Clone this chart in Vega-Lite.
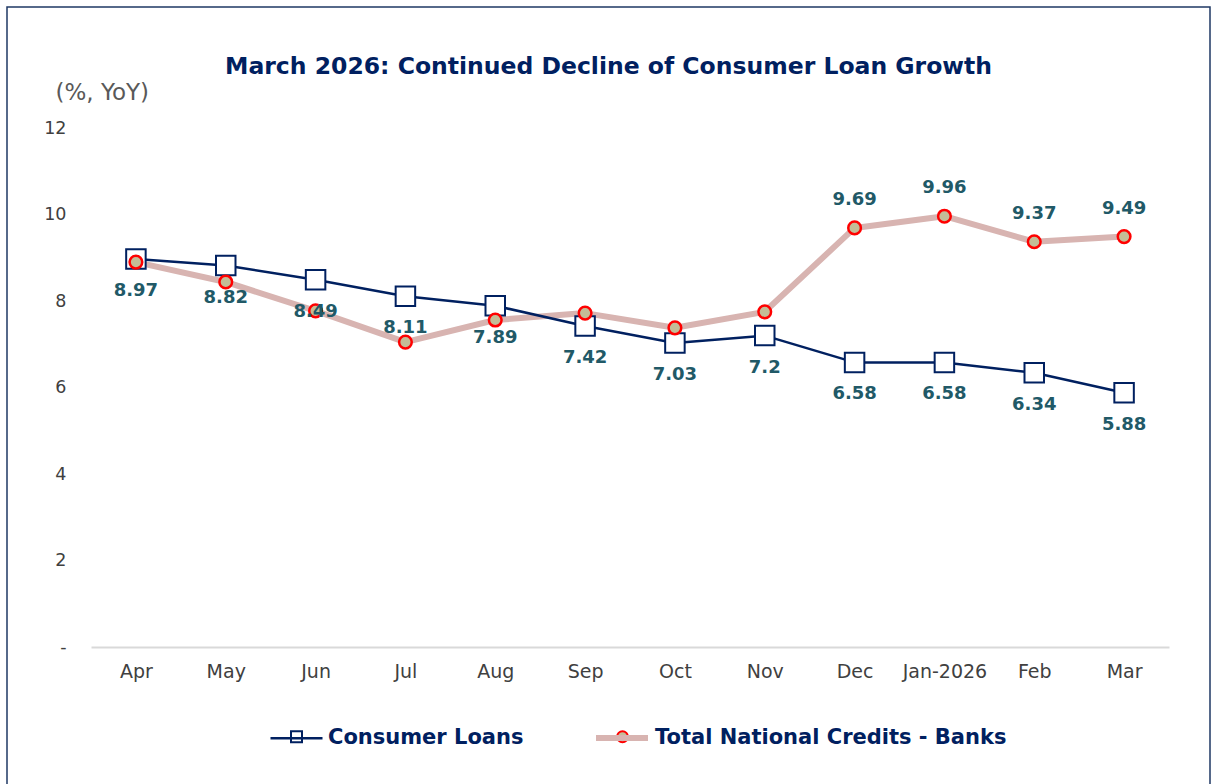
{
  "$schema": "https://vega.github.io/schema/vega-lite/v6.json",
  "autosize": {"type": "none"},
  "padding": {"left": 7, "top": 7, "right": 2, "bottom": 0},
  "width": 1203,
  "height": 790,
  "background": "white",
  "config": {
    "view": {"stroke": "#1F3864", "strokeWidth": 1.5},
    "font": "DejaVu Sans"
  },
  "title": {
    "text": "March 2026: Continued Decline of Consumer Loan Growth",
    "font": "DejaVu Sans",
    "fontSize": 23.5,
    "fontWeight": "bold",
    "color": "#002060",
    "anchor": "middle",
    "frame": "group",
    "orient": "top",
    "baseline": "alphabetic",
    "offset": -90
  },
  "data": {
    "values": [
      {"month": "Apr", "series": "Consumer Loans", "value": 8.97},
      {"month": "May", "series": "Consumer Loans", "value": 8.82},
      {"month": "Jun", "series": "Consumer Loans", "value": 8.49},
      {"month": "Jul", "series": "Consumer Loans", "value": 8.11},
      {"month": "Aug", "series": "Consumer Loans", "value": 7.89},
      {"month": "Sep", "series": "Consumer Loans", "value": 7.42},
      {"month": "Oct", "series": "Consumer Loans", "value": 7.03},
      {"month": "Nov", "series": "Consumer Loans", "value": 7.2},
      {"month": "Dec", "series": "Consumer Loans", "value": 6.58},
      {"month": "Jan-2026", "series": "Consumer Loans", "value": 6.58},
      {"month": "Feb", "series": "Consumer Loans", "value": 6.34},
      {"month": "Mar", "series": "Consumer Loans", "value": 5.88},
      {"month": "Apr", "series": "Total National Credits - Banks", "value": 8.9},
      {"month": "May", "series": "Total National Credits - Banks", "value": 8.44},
      {"month": "Jun", "series": "Total National Credits - Banks", "value": 7.77},
      {"month": "Jul", "series": "Total National Credits - Banks", "value": 7.05},
      {"month": "Aug", "series": "Total National Credits - Banks", "value": 7.56},
      {"month": "Sep", "series": "Total National Credits - Banks", "value": 7.72},
      {"month": "Oct", "series": "Total National Credits - Banks", "value": 7.38},
      {"month": "Nov", "series": "Total National Credits - Banks", "value": 7.75},
      {"month": "Dec", "series": "Total National Credits - Banks", "value": 9.69},
      {"month": "Jan-2026", "series": "Total National Credits - Banks", "value": 9.96},
      {"month": "Feb", "series": "Total National Credits - Banks", "value": 9.37},
      {"month": "Mar", "series": "Total National Credits - Banks", "value": 9.49}
    ]
  },
  "encoding": {
    "x": {
      "field": "month",
      "type": "nominal",
      "sort": ["Apr", "May", "Jun", "Jul", "Aug", "Sep", "Oct", "Nov", "Dec", "Jan-2026", "Feb", "Mar"],
      "scale": {"type": "point", "range": [84, 1162], "padding": 0.5},
      "axis": {
        "title": null,
        "orient": "bottom",
        "offset": -150,
        "labelAngle": 0,
        "labelFont": "DejaVu Sans",
        "labelFontSize": 19,
        "labelColor": "#404040",
        "labelPadding": 15,
        "ticks": false,
        "domain": true,
        "domainColor": "#D9D9D9",
        "domainWidth": 2,
        "grid": false
      }
    },
    "y": {
      "field": "value",
      "type": "quantitative",
      "scale": {"domain": [0, 12], "range": [640, 121], "nice": false, "zero": true},
      "axis": {
        "title": "(%, YoY)",
        "titleAngle": 0,
        "titleX": -36,
        "titleY": 92,
        "titleAlign": "left",
        "titleBaseline": "alphabetic",
        "titleFont": "DejaVu Sans",
        "titleFontSize": 23,
        "titleFontWeight": "normal",
        "titleColor": "#595959",
        "offset": -84,
        "values": [0, 2, 4, 6, 8, 10, 12],
        "labelExpr": "datum.value == 0 ? '-' : datum.label",
        "labelFont": "DejaVu Sans",
        "labelFontSize": 17.5,
        "labelColor": "#404040",
        "labelPadding": 25,
        "ticks": false,
        "domain": false,
        "grid": false
      }
    }
  },
  "layer": [
    {
      "transform": [{"filter": "datum.series == 'Total National Credits - Banks'"}],
      "mark": {"type": "line", "strokeCap": "round", "strokeJoin": "round"},
      "encoding": {
        "color": {
          "field": "series", "type": "nominal",
          "scale": {"range": ["#002060", "#D8B4B1"]},
          "legend": null
        },
        "strokeWidth": {
          "field": "series", "type": "nominal",
          "scale": {"type": "ordinal", "domain": ["Consumer Loans", "Total National Credits - Banks"], "range": [2.5, 6]},
          "legend": {
            "orient": "none", "direction": "horizontal", "legendX": 262, "legendY": 702,
            "title": null, "symbolType": "stroke", "symbolSize": 2704,
            "labelFont": "DejaVu Sans", "labelFontSize": 21, "labelFontWeight": "bold",
            "labelColor": "#002060", "labelOffset": 4, "columnPadding": 60, "labelLimit": 500,
            "encode": {"symbols": {"update": {"stroke": {"scale": "color", "field": "value"}}}}
          }
        }
      }
    },
    {
      "transform": [{"filter": "datum.series == 'Consumer Loans'"}],
      "mark": {"type": "line", "strokeJoin": "round"},
      "encoding": {
        "color": {"field": "series", "type": "nominal", "legend": null},
        "strokeWidth": {"field": "series", "type": "nominal"}
      }
    },
    {
      "transform": [{"filter": "datum.series == 'Consumer Loans'"}],
      "mark": {"type": "point", "size": 380, "strokeWidth": 2, "opacity": 1, "filled": false},
      "encoding": {
        "shape": {
          "field": "series", "type": "nominal",
          "scale": {"range": ["square", "circle"]},
          "legend": {
            "orient": "none", "direction": "horizontal", "legendX": 279, "legendY": 719,
            "title": null, "symbolSize": 121, "symbolStrokeWidth": 2,
            "labelFont": "DejaVu Sans", "labelFontSize": 21, "labelFontWeight": "bold",
            "labelOpacity": 0, "labelOffset": 44, "columnPadding": 65, "labelLimit": 500
          }
        },
        "fill": {"field": "series", "type": "nominal", "scale": {"range": ["#FFFFFF", "#C4BD97"]}},
        "stroke": {"field": "series", "type": "nominal", "scale": {"range": ["#002060", "#FF0000"]}}
      }
    },
    {
      "transform": [{"filter": "datum.series == 'Total National Credits - Banks'"}],
      "mark": {"type": "point", "size": 160, "strokeWidth": 2.5, "opacity": 1, "filled": false},
      "encoding": {
        "shape": {"field": "series", "type": "nominal"},
        "fill": {"field": "series", "type": "nominal"},
        "stroke": {"field": "series", "type": "nominal"}
      }
    },
    {
      "transform": [{"filter": "datum.series == 'Consumer Loans'"}],
      "mark": {"type": "text", "dy": 32, "baseline": "middle", "align": "center", "font": "DejaVu Sans", "fontSize": 18, "fontWeight": "bold", "color": "#215967"},
      "encoding": {"text": {"field": "value", "type": "quantitative"}}
    },
    {
      "transform": [{"filter": "datum.series == 'Total National Credits - Banks' && (datum.month == 'Dec' || datum.month == 'Jan-2026' || datum.month == 'Feb' || datum.month == 'Mar')"}],
      "mark": {"type": "text", "dy": -28, "baseline": "middle", "align": "center", "font": "DejaVu Sans", "fontSize": 18, "fontWeight": "bold", "color": "#215967"},
      "encoding": {"text": {"field": "value", "type": "quantitative"}}
    }
  ]
}
